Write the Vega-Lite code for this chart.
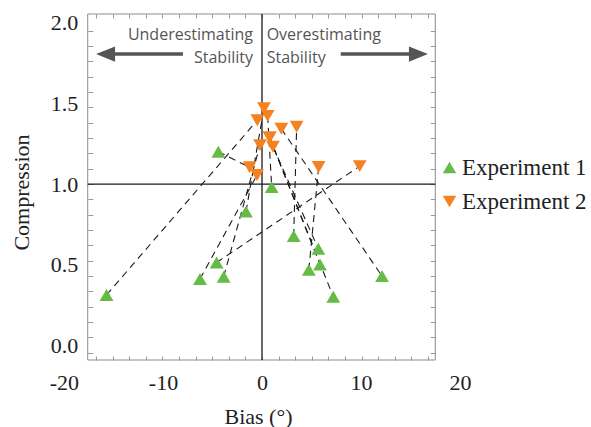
{
  "$schema": "https://vega.github.io/schema/vega-lite/v6.json",
  "width": 406,
  "height": 346,
  "autosize": "none",
  "padding": {"left": 59, "top": 14, "right": 126, "bottom": 67},
  "background": "white",
  "config": {
    "view": {"stroke": null},
    "font": "Liberation Serif",
    "legend": {"labelFont": "Liberation Serif"}
  },
  "datasets": {
    "pts": [
      {"pair": 1, "exp": "Experiment 1", "bias": -15.7, "comp": 0.313},
      {"pair": 1, "exp": "Experiment 2", "bias": -0.47, "comp": 1.395},
      {"pair": 2, "exp": "Experiment 1", "bias": -4.41, "comp": 1.2},
      {"pair": 2, "exp": "Experiment 2", "bias": -1.25, "comp": 1.104},
      {"pair": 3, "exp": "Experiment 1", "bias": -4.58, "comp": 0.514},
      {"pair": 3, "exp": "Experiment 2", "bias": 9.87, "comp": 1.111},
      {"pair": 4, "exp": "Experiment 1", "bias": -6.26, "comp": 0.412},
      {"pair": 4, "exp": "Experiment 2", "bias": -0.5, "comp": 1.056},
      {"pair": 5, "exp": "Experiment 1", "bias": -3.87, "comp": 0.426},
      {"pair": 5, "exp": "Experiment 2", "bias": -0.2, "comp": 1.241},
      {"pair": 6, "exp": "Experiment 1", "bias": -1.62, "comp": 0.829},
      {"pair": 6, "exp": "Experiment 2", "bias": 0.2, "comp": 1.469},
      {"pair": 7, "exp": "Experiment 1", "bias": 0.98, "comp": 0.981},
      {"pair": 7, "exp": "Experiment 2", "bias": 0.57, "comp": 1.422},
      {"pair": 8, "exp": "Experiment 1", "bias": 3.2, "comp": 0.678},
      {"pair": 8, "exp": "Experiment 2", "bias": 3.5, "comp": 1.355},
      {"pair": 9, "exp": "Experiment 1", "bias": 5.69, "comp": 0.599},
      {"pair": 9, "exp": "Experiment 2", "bias": 1.11, "comp": 1.231},
      {"pair": 10, "exp": "Experiment 1", "bias": 4.73, "comp": 0.469},
      {"pair": 10, "exp": "Experiment 2", "bias": 5.72, "comp": 1.105},
      {"pair": 11, "exp": "Experiment 1", "bias": 5.86, "comp": 0.502},
      {"pair": 11, "exp": "Experiment 2", "bias": 0.77, "comp": 1.288},
      {"pair": 12, "exp": "Experiment 1", "bias": 12.12, "comp": 0.43},
      {"pair": 12, "exp": "Experiment 2", "bias": 1.95, "comp": 1.342},
      {"pair": 13, "exp": "Experiment 1", "bias": 7.2, "comp": 0.302},
      {"pair": 13, "exp": "Experiment 2", "bias": 0.77, "comp": 1.288}
    ],
    "arrows": [
      {"side": "left", "bias": -7.98, "comp": 1.805},
      {"side": "left", "bias": -15.0, "comp": 1.805},
      {"side": "right", "bias": 7.95, "comp": 1.805},
      {"side": "right", "bias": 15.0, "comp": 1.805}
    ]
  },
  "layer": [
    {
      "data": {"values": [{}]},
      "mark": {"type": "rect", "fill": null, "filled": false, "stroke": "#8c8c8c", "strokeWidth": 1},
      "encoding": {
        "x": {"datum": -17.6, "type": "quantitative", "scale": {"domain": [-20.5, 20.5], "nice": false, "zero": false}, "axis": null},
        "x2": {"datum": 17.5},
        "y": {"datum": -0.0898, "type": "quantitative", "scale": {"domain": [-0.0898, 2.053], "nice": false, "zero": false}, "axis": null},
        "y2": {"datum": 2.053}
      }
    },
    {
      "data": {"values": [{}]},
      "mark": {"type": "rule", "color": "#1a1a1a", "strokeWidth": 1.3},
      "encoding": {
        "x": {
          "datum": 0,
          "type": "quantitative",
          "scale": {"domain": [-20.5, 20.5], "nice": false, "zero": false},
          "axis": {
            "orient": "bottom",
            "values": [-20, -10, 0, 10, 20],
            "labelExpr": "replace(datum.label, '\u2212', '-')",
            "ticks": false,
            "domain": false,
            "grid": false,
            "labelFont": "Liberation Serif",
            "labelFontSize": 22,
            "labelColor": "#222222",
            "labelPadding": 12,
            "labelOverlap": false,
            "labelFlush": false,
            "labelBound": false,
            "title": "Bias (°)",
            "titleFont": "Liberation Serif",
            "titleFontSize": 22,
            "titleFontWeight": "normal",
            "titleColor": "#222222",
            "titleBaseline": "alphabetic",
            "titleX": 199,
            "titleY": 63
          }
        }
      }
    },
    {
      "data": {"values": [{}]},
      "mark": {"type": "rule", "color": "#1a1a1a", "strokeWidth": 1.3},
      "encoding": {
        "x": {"datum": -17.6, "type": "quantitative", "scale": {"domain": [-20.5, 20.5], "nice": false, "zero": false}, "axis": null},
        "x2": {"datum": 17.5},
        "y": {
          "datum": 1,
          "type": "quantitative",
          "scale": {"domain": [-0.0898, 2.053], "nice": false, "zero": false},
          "axis": {
            "orient": "left",
            "offset": -28.76,
            "values": [0, 0.5, 1, 1.5, 2],
            "format": ".1f",
            "ticks": false,
            "domain": false,
            "grid": false,
            "labelFont": "Liberation Serif",
            "labelFontSize": 22,
            "labelColor": "#222222",
            "labelPadding": 10,
            "labelOverlap": false,
            "labelFlush": false,
            "labelBound": false,
            "title": "Compression",
            "titleFont": "Liberation Serif",
            "titleFontSize": 22,
            "titleFontWeight": "normal",
            "titleColor": "#222222",
            "titleAngle": 270,
            "titleAlign": "center",
            "titleBaseline": "alphabetic",
            "titleX": -59,
            "titleY": 178
          }
        }
      }
    },
    {
      "data": {"name": "pts"},
      "mark": {"type": "line", "strokeDash": [7, 5], "color": "#1a1a1a", "strokeWidth": 1.1},
      "encoding": {
        "x": {
          "field": "bias",
          "type": "quantitative",
          "scale": {"domain": [-20.5, 20.5], "nice": false, "zero": false},
          "axis": {
            "orient": "bottom",
            "offset": -4,
            "values": [-16.77, -15.09, -13.42, -11.74, -10.06, -8.38, -6.71, -5.03, -3.35, -1.68, 0, 1.68, 3.35, 5.03, 6.71, 8.38, 10.06, 11.74, 13.42, 15.09, 16.77],
            "labels": false,
            "domain": false,
            "grid": false,
            "title": null,
            "tickColor": "#999999",
            "tickSize": 4
          }
        },
        "y": {
          "field": "comp",
          "type": "quantitative",
          "scale": {"domain": [-0.0898, 2.053], "nice": false, "zero": false},
          "axis": {
            "orient": "left",
            "offset": -33.76,
            "values": [-0.0441, 0.0508, 0.1457, 0.2406, 0.3356, 0.4305, 0.5254, 0.6203, 0.7152, 0.8102, 0.9051, 1, 1.0949, 1.1898, 1.2848, 1.3797, 1.4746, 1.5695, 1.6644, 1.7594, 1.8543, 1.9492],
            "labels": false,
            "domain": false,
            "grid": false,
            "title": null,
            "tickColor": "#999999",
            "tickSize": 5
          }
        },
        "detail": {"field": "pair", "type": "nominal"}
      }
    },
    {
      "data": {"name": "pts"},
      "mark": {"type": "point", "filled": true, "opacity": 1, "size": 190, "strokeWidth": 0},
      "encoding": {
        "x": {
          "field": "bias",
          "type": "quantitative",
          "scale": {"domain": [-20.5, 20.5], "nice": false, "zero": false},
          "axis": {
            "orient": "top",
            "offset": -4,
            "values": [-16.77, -15.09, -13.42, -11.74, -10.06, -8.38, -6.71, -5.03, -3.35, -1.68, 0, 1.68, 3.35, 5.03, 6.71, 8.38, 10.06, 11.74, 13.42, 15.09, 16.77],
            "labels": false,
            "domain": false,
            "grid": false,
            "title": null,
            "tickColor": "#999999",
            "tickSize": 4
          }
        },
        "y": {
          "field": "comp",
          "type": "quantitative",
          "scale": {"domain": [-0.0898, 2.053], "nice": false, "zero": false},
          "axis": {
            "orient": "right",
            "offset": -34.75,
            "values": [-0.0441, 0.0508, 0.1457, 0.2406, 0.3356, 0.4305, 0.5254, 0.6203, 0.7152, 0.8102, 0.9051, 1, 1.0949, 1.1898, 1.2848, 1.3797, 1.4746, 1.5695, 1.6644, 1.7594, 1.8543, 1.9492],
            "labels": false,
            "domain": false,
            "grid": false,
            "title": null,
            "tickColor": "#999999",
            "tickSize": 5
          }
        },
        "color": {
          "field": "exp",
          "type": "nominal",
          "scale": {"domain": ["Experiment 1", "Experiment 2"], "range": ["#66bb46", "#f58220"]},
          "legend": {
            "title": null,
            "orient": "none",
            "legendX": 379,
            "legendY": 142,
            "padding": 0,
            "symbolSize": 180,
            "symbolStrokeWidth": 0,
            "labelFont": "Liberation Serif",
            "labelFontSize": 23,
            "labelColor": "#222222",
            "labelOffset": 1,
            "rowPadding": 10,
            "labelLimit": 300,
            "encode": {"labels": {"update": {"font": {"value": "Liberation Serif"}, "fontSize": {"value": 23}}}}
          }
        },
        "shape": {
          "field": "exp",
          "type": "nominal",
          "scale": {"domain": ["Experiment 1", "Experiment 2"], "range": ["triangle-up", "triangle-down"]},
          "legend": {
            "title": null,
            "orient": "none",
            "legendX": 379,
            "legendY": 142,
            "padding": 0,
            "symbolSize": 180,
            "symbolStrokeWidth": 0,
            "labelFont": "Liberation Serif",
            "labelFontSize": 23,
            "labelColor": "#222222",
            "labelOffset": 1,
            "rowPadding": 10,
            "labelLimit": 300,
            "encode": {"labels": {"update": {"font": {"value": "Liberation Serif"}, "fontSize": {"value": 23}}}}
          }
        }
      }
    },
    {
      "data": {"name": "arrows"},
      "mark": {"type": "line", "color": "#555555", "strokeWidth": 3.5},
      "encoding": {
        "x": {"field": "bias", "type": "quantitative", "scale": {"domain": [-20.5, 20.5], "nice": false, "zero": false}, "axis": null},
        "y": {"field": "comp", "type": "quantitative", "scale": {"domain": [-0.0898, 2.053], "nice": false, "zero": false}, "axis": null},
        "detail": {"field": "side", "type": "nominal"}
      }
    },
    {
      "data": {"values": [{}]},
      "mark": {"type": "point", "filled": true, "opacity": 1, "color": "#555555", "strokeWidth": 0, "size": 361, "shape": "M -1 0 L 1 -0.8 L 1 0.8 Z"},
      "encoding": {
        "x": {"datum": -15.8, "type": "quantitative", "scale": {"domain": [-20.5, 20.5], "nice": false, "zero": false}, "axis": null},
        "y": {"datum": 1.805, "type": "quantitative", "scale": {"domain": [-0.0898, 2.053], "nice": false, "zero": false}, "axis": null}
      }
    },
    {
      "data": {"values": [{}]},
      "mark": {"type": "point", "filled": true, "opacity": 1, "color": "#555555", "strokeWidth": 0, "size": 361, "shape": "M 1 0 L -1 -0.8 L -1 0.8 Z"},
      "encoding": {
        "x": {"datum": 15.8, "type": "quantitative", "scale": {"domain": [-20.5, 20.5], "nice": false, "zero": false}, "axis": null},
        "y": {"datum": 1.805, "type": "quantitative", "scale": {"domain": [-0.0898, 2.053], "nice": false, "zero": false}, "axis": null}
      }
    },
    {
      "data": {"values": [{}]},
      "mark": {"type": "text", "text": ["Underestimating", "Stability"], "align": "right", "baseline": "alphabetic", "font": "Open Sans", "fontSize": 16, "color": "#555555", "lineHeight": 22.5},
      "encoding": {
        "x": {"datum": -0.91, "type": "quantitative", "scale": {"domain": [-20.5, 20.5], "nice": false, "zero": false}, "axis": null},
        "y": {"datum": 1.8916, "type": "quantitative", "scale": {"domain": [-0.0898, 2.053], "nice": false, "zero": false}, "axis": null}
      }
    },
    {
      "data": {"values": [{}]},
      "mark": {"type": "text", "text": ["Overestimating", "Stability"], "align": "left", "baseline": "alphabetic", "font": "Open Sans", "fontSize": 16, "color": "#555555", "lineHeight": 22.5},
      "encoding": {
        "x": {"datum": 0.47, "type": "quantitative", "scale": {"domain": [-20.5, 20.5], "nice": false, "zero": false}, "axis": null},
        "y": {"datum": 1.8916, "type": "quantitative", "scale": {"domain": [-0.0898, 2.053], "nice": false, "zero": false}, "axis": null}
      }
    }
  ],
  "resolve": {"axis": {"x": "independent", "y": "independent"}}
}
